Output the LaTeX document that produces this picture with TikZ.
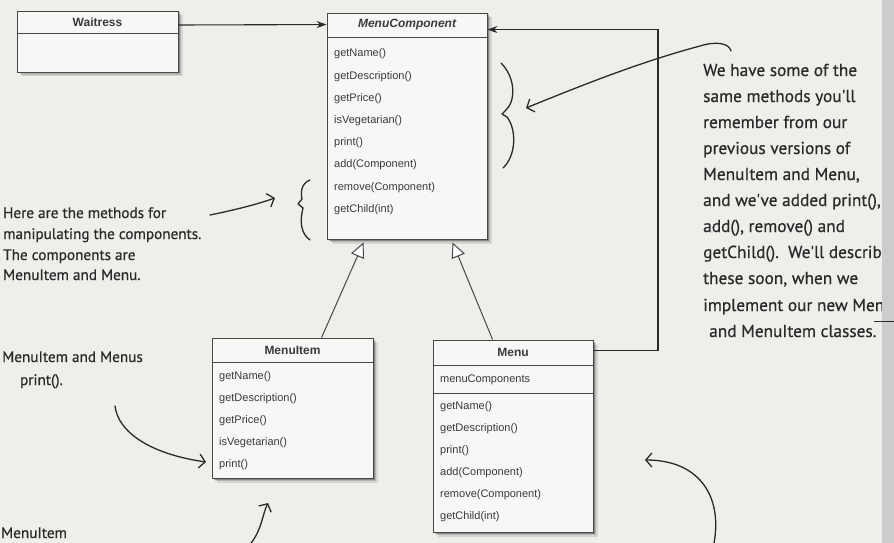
\documentclass[tikz,border=0pt]{standalone}
\usepackage{fontspec}
\setmainfont{Liberation Sans}
\newfontfamily\hand[FakeBold=0.6]{PT Sans}
\usetikzlibrary{arrows.meta,shadows}
\definecolor{paper}{HTML}{EFEEEB}
\definecolor{boxfill}{HTML}{F7F7F5}
\definecolor{boxline}{HTML}{474747}
\definecolor{txt}{HTML}{3A3A3A}
\definecolor{ink}{HTML}{2A2A2A}
\tikzset{
  umlbox/.style={rectangle, draw=boxline, line width=0.9pt, fill=boxfill, inner sep=0pt,
    drop shadow={shadow xshift=4.5pt, shadow yshift=-4.5pt, opacity=0.10, fill=black},
    drop shadow={shadow xshift=3pt, shadow yshift=-3pt, opacity=0.15, fill=black},
    drop shadow={shadow xshift=1.5pt, shadow yshift=-1.5pt, opacity=0.25, fill=black}},
  divider/.style={draw=boxline, line width=0.8pt},
  umltitle/.style={font=\bfseries\fontsize{12}{14}\selectfont, text=txt, inner sep=0pt},
  meth/.style={font=\fontsize{11}{13}\selectfont, text=txt, inner sep=0pt, anchor=west},
  handtext/.style={font=\hand\fontsize{17.3}{20}\selectfont, text=ink, inner sep=0pt, anchor=base west},
  handleft/.style={handtext, font=\hand\fontsize{15.2}{18}\selectfont},
  inherit/.style={draw=boxline, line width=1pt, -{Triangle[length=15pt, width=14pt, fill=white]}},
  assoc/.style={draw=ink, line width=1.1pt, -{Stealth[length=10pt, width=7pt]}},
  scribble/.style={draw=ink, line width=1.3pt, line cap=round, -{Straight Barb[length=6pt, width=14pt]}},
  bracepen/.style={draw=ink, line width=1.3pt, line cap=round, line join=round},
}
\begin{document}
\begin{tikzpicture}[x=1pt, y=-1pt]
\useasboundingbox (0,0) rectangle (894,543);
\fill[paper] (0,0) rectangle (894,543);
\clip (0,0) rectangle (894,543);

% ---------------- boxes ----------------
\node[umlbox, minimum width=161pt, minimum height=61pt] (waitress) at (97.5,41.5) {};
\draw[divider] (waitress.west |- 0,33) -- (waitress.east |- 0,33);
\node[umltitle] (waitresst) at (97.5,22.5) {Waitress};

\node[umlbox, minimum width=160pt, minimum height=226pt] (mc) at (407,126) {};
\draw[divider] (mc.west |- 0,37) -- (mc.east |- 0,37);
\node[umltitle, font=\bfseries\itshape\fontsize{12}{14}\selectfont] (mct) at (407,25) {MenuComponent};
\node[meth] (mc1) at (334,54) {getName()};
\node[meth] (mc2) at (334,77) {getDescription()};
\node[meth] (mc3) at (334,99) {getPrice()};
\node[meth] (mc4) at (334,121) {isVegetarian()};
\node[meth] (mc5) at (334,143) {print()};
\node[meth] (mc6) at (334,165) {add(Component)};
\node[meth] (mc7) at (334,188) {remove(Component)};
\node[meth] (mc8) at (334,210) {getChild(int)};

\node[umlbox, minimum width=161pt, minimum height=140pt] (mi) at (292.5,408) {};
\draw[divider] (mi.west |- 0,362) -- (mi.east |- 0,362);
\node[umltitle] (mit) at (292.5,350) {MenuItem};
\node[meth] (mi1) at (219,377) {getName()};
\node[meth] (mi2) at (219,399) {getDescription()};
\node[meth] (mi3) at (219,421) {getPrice()};
\node[meth] (mi4) at (219,443) {isVegetarian()};
\node[meth] (mi5) at (219,465) {print()};

\node[umlbox, minimum width=160pt, minimum height=192pt] (menu) at (513,436) {};
\draw[divider] (menu.west |- 0,365) -- (menu.east |- 0,365);
\draw[divider] (menu.west |- 0,393) -- (menu.east |- 0,393);
\node[umltitle] (menut) at (513,352) {Menu};
\node[meth] (mf) at (440,380) {menuComponents};
\node[meth] (mm1) at (440,407) {getName()};
\node[meth] (mm2) at (440,429) {getDescription()};
\node[meth] (mm3) at (440,451) {print()};
\node[meth] (mm4) at (440,473) {add(Component)};
\node[meth] (mm5) at (440,495) {remove(Component)};
\node[meth] (mm6) at (440,517) {getChild(int)};

% ---------------- UML connectors ----------------
\draw[assoc] ([yshift=16.5pt]waitress.east) -- ([yshift=-12pt]mc.north west);
\coordinate (turn) at (658,200);
\draw[assoc] ([yshift=-11pt]menu.north east) -| (turn) |- ([yshift=-17pt]mc.north east);
\draw[inherit] ([xshift=110pt]mi.north west) -- ([xshift=37pt,yshift=-3pt]mc.south west);
\draw[inherit] ([xshift=60pt]menu.north west) -- ([xshift=126pt,yshift=-3pt]mc.south west);

% ---------------- braces ----------------
\draw[bracepen] (501,63) .. controls (516,78) and (516,102) .. (505,111)
  -- (502,114) -- (507,117) .. controls (517,130) and (516,156) .. (503,168);
\draw[bracepen] (310,180) .. controls (300,184) and (301,194) .. (302,199)
  -- (298,204) -- (303,208) .. controls (300,220) and (300,233) .. (310,240);

% ---------------- right annotation ----------------
\begin{scope}
\clip (0,0) rectangle (882,543);
\node[handtext] (r1) at (703,76) {We have some of the};
\node[handtext] (r2) at (703,102) {same methods you'll};
\node[handtext] (r3) at (703,128) {remember from our};
\node[handtext] (r4) at (703,154) {previous versions of};
\node[handtext] (r5) at (703,180) {MenuItem and Menu,};
\node[handtext] (r6) at (703,206) {and we've added print(),};
\node[handtext] (r7) at (703,232) {add(), remove() and};
\node[handtext] (r8) at (703,258) {getChild().\ \ We'll describe};
\node[handtext] (r9) at (703,284) {these soon, when we};
\node[handtext] (r10) at (703,311) {implement our new Menu};
\node[handtext] (r11) at (709,337) {and MenuItem classes.};
\end{scope}
\coordinate (ra0) at (731,51);
\coordinate (ratip) at (526,108);
\draw[scribble] (ra0) .. controls (729,43) and (716,41) .. (700,46)
  .. controls (640,62) and (580,86) .. (ratip);

% ---------------- left annotations ----------------
\node[handleft] (l1) at (3,218) {Here are the methods for};
\node[handleft] (l2) at (3,239) {manipulating the components.};
\node[handleft] (l3) at (3,260) {The components are};
\node[handleft] (l4) at (3,280) {MenuItem and Menu.};
\coordinate (la0) at (210,215);
\coordinate (latip) at (275,198);
\draw[scribble] (la0) .. controls (230,211) and (255,205) .. (latip);

\node[handleft, anchor=base east] (b1) at (143,362) {MenuItem and Menus};
\node[handleft, anchor=base east] (b2) at (63,385) {print().};
\coordinate (ba0) at (115,406);
\coordinate (batip) at (206,462);
\draw[scribble] (ba0) .. controls (118,432) and (150,454) .. (batip);

\node[handleft] (b3) at (1,538) {MenuItem};
\coordinate (ua0) at (247,548);
\coordinate (uatip) at (268,503);
\draw[scribble] (ua0) .. controls (262,532) and (262,515) .. (uatip);

\coordinate (ma0) at (713,548);
\coordinate (matip) at (645,460);
\draw[scribble] (ma0) .. controls (724,500) and (702,460) .. (matip);

% ---------------- page edge ----------------
\fill[gray!40] (882,0) rectangle (894,543);
\draw[ink, line width=1pt] (874,321) -- (894,321);
\end{tikzpicture}
\end{document}
